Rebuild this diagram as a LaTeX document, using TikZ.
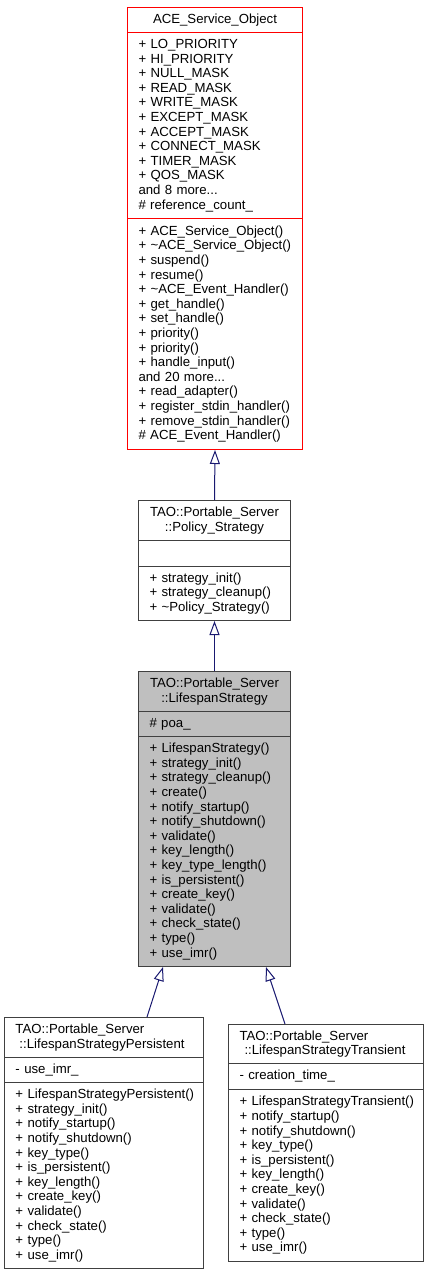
\documentclass[tikz,border=0pt]{standalone}
\usepackage{fontspec}
\setmainfont{Liberation Sans}
\usetikzlibrary{arrows.meta,calc}
\definecolor{edgeblue}{HTML}{191970}
\definecolor{boxgray}{HTML}{404040}
\definecolor{boxred}{HTML}{FF0000}
\definecolor{fillgray}{HTML}{BFBFBF}
\hyphenpenalty=10000
\exhyphenpenalty=10000
\tikzset{
  membox/.style={draw=#1, line width=1pt, anchor=north west, inner xsep=11pt, inner ysep=0pt,
    align=left, font=\fontsize{13.2}{14.6}\selectfont, text=black},
  titlebox/.style={membox=#1, align=center},
  inherit/.style={draw=edgeblue, line width=1pt, -{Triangle[open, length=14pt, width=10pt, line width=1pt]}}
}
\begin{document}
\begin{tikzpicture}[x=1pt, y=-1pt]
\useasboundingbox (0,0) rectangle (428,1275);
% ACE_Service_Object
\node[titlebox=boxred, text width=153pt, minimum height=25pt] (At) at (127,7) {ACE\_Service\_Object};
\node[membox=boxred, text width=153pt, minimum height=186pt] (Aa) at (127,32) {+ LO\_PRIORITY\\+ HI\_PRIORITY\\+ NULL\_MASK\\+ READ\_MASK\\+ WRITE\_MASK\\+ EXCEPT\_MASK\\+ ACCEPT\_MASK\\+ CONNECT\_MASK\\+ TIMER\_MASK\\+ QOS\_MASK\\and 8 more...\\\# reference\_count\_};
\node[membox=boxred, text width=153pt, minimum height=231pt] (Am) at (127,218) {+ ACE\_Service\_Object()\\+ \textasciitilde{}ACE\_Service\_Object()\\+ suspend()\\+ resume()\\+ \textasciitilde{}ACE\_Event\_Handler()\\+ get\_handle()\\+ set\_handle()\\+ priority()\\+ priority()\\+ handle\_input()\\and 20 more...\\+ read\_adapter()\\+ register\_stdin\_handler()\\+ remove\_stdin\_handler()\\\# ACE\_Event\_Handler()};
% Policy_Strategy
\node[titlebox=boxgray, text width=130pt, minimum height=40pt] (Bt) at (138,500) {TAO::Portable\_Server\\::Policy\_Strategy};
\node[membox=boxgray, text width=130pt, minimum height=26pt] (Ba) at (138,540) {};
\node[membox=boxgray, text width=130pt, minimum height=54pt] (Bm) at (138,566) {+ strategy\_init()\\+ strategy\_cleanup()\\+ \textasciitilde{}Policy\_Strategy()};
% LifespanStrategy
\node[titlebox=boxgray, fill=fillgray, text width=130pt, minimum height=40pt] (Ct) at (138,671) {TAO::Portable\_Server\\::LifespanStrategy};
\node[membox=boxgray, fill=fillgray, text width=130pt, minimum height=25pt] (Ca) at (138,711) {\# poa\_};
\node[membox=boxgray, fill=fillgray, text width=130pt, minimum height=230pt] (Cm) at (138,736) {+ LifespanStrategy()\\+ strategy\_init()\\+ strategy\_cleanup()\\+ create()\\+ notify\_startup()\\+ notify\_shutdown()\\+ validate()\\+ key\_length()\\+ key\_type\_length()\\+ is\_persistent()\\+ create\_key()\\+ validate()\\+ check\_state()\\+ type()\\+ use\_imr()};
% LifespanStrategyPersistent
\node[membox=boxgray, text width=177pt, minimum height=40pt] (Dt) at (4,1017) {TAO::Portable\_Server\\\hspace*{4pt}::LifespanStrategyPersistent};
\node[membox=boxgray, text width=177pt, minimum height=25pt] (Da) at (4,1057) {- use\_imr\_};
\node[membox=boxgray, text width=177pt, minimum height=186pt] (Dm) at (4,1082) {+~LifespanStrategyPersistent()\\+ strategy\_init()\\+ notify\_startup()\\+ notify\_shutdown()\\+ key\_type()\\+ is\_persistent()\\+ key\_length()\\+ create\_key()\\+ validate()\\+ check\_state()\\+ type()\\+ use\_imr()};
% LifespanStrategyTransient
\node[membox=boxgray, text width=173pt, minimum height=39pt] (Et) at (228,1024) {TAO::Portable\_Server\\\hspace*{5pt}::LifespanStrategyTransient};
\node[membox=boxgray, text width=173pt, minimum height=26pt] (Ea) at (228,1063) {- creation\_time\_};
\node[membox=boxgray, text width=173pt, minimum height=172pt] (Em) at (228,1089) {+~LifespanStrategyTransient()\\+ notify\_startup()\\+ notify\_shutdown()\\+ key\_type()\\+ is\_persistent()\\+ key\_length()\\+ create\_key()\\+ validate()\\+ check\_state()\\+ type()\\+ use\_imr()};
% inheritance
\draw[inherit] (Bt.north) -- (Am.south);
\draw[inherit] (Ct.north) -- (Bm.south);
\draw[inherit] ([xshift=143pt]Dt.north west) -- ([xshift=25pt]Cm.south west);
\draw[inherit] ([xshift=57pt]Et.north west) -- ([xshift=128pt]Cm.south west);
\end{tikzpicture}
\end{document}
